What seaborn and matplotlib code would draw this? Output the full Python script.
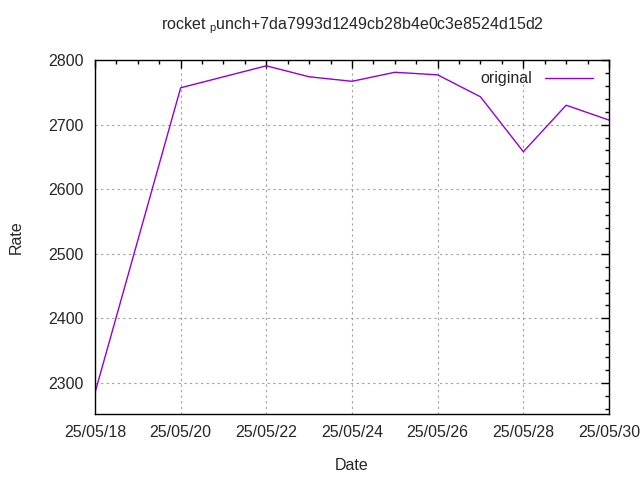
import pandas as pd
import matplotlib
matplotlib.use("Agg")
import matplotlib.pyplot as plt
import matplotlib.dates as mdates
from matplotlib.ticker import MultipleLocator
import seaborn as sns

# Datos
dates = ["2025-05-18", "2025-05-20", "2025-05-21", "2025-05-22", "2025-05-23",
         "2025-05-24", "2025-05-25", "2025-05-26", "2025-05-27", "2025-05-28",
         "2025-05-29", "2025-05-30"]
rates = [2285, 2757, 2774, 2791, 2774, 2767, 2781, 2777, 2743, 2658, 2730, 2707]
series_name = "original"
title = r"rocket $_\mathregular{p}$unch+7da7993d1249cb28b4e0c3e8524d15d2"

df = pd.DataFrame({"Date": pd.to_datetime(dates), "Rate": rates})

sns.set_style("white")
plt.rcParams["font.family"] = ["Liberation Sans", "DejaVu Sans"]
plt.rcParams["font.size"] = 11.5

fig = plt.figure(figsize=(6.4, 4.8), dpi=100)
ax = fig.add_axes([95 / 640, 1 - 414 / 480, 514 / 640, 354 / 480])

sns.lineplot(data=df, x="Date", y="Rate", ax=ax, color="#9400D3",
             linewidth=1, label=series_name)

ax.set_xlim(pd.Timestamp("2025-05-18"), pd.Timestamp("2025-05-30"))
ax.set_ylim(2252, 2800)
ax.xaxis.set_major_locator(mdates.DayLocator(interval=2))
ax.xaxis.set_minor_locator(mdates.HourLocator(byhour=[0, 12]))
ax.xaxis.set_major_formatter(mdates.DateFormatter("%y/%m/%d"))
ax.yaxis.set_major_locator(MultipleLocator(100))
ax.yaxis.set_minor_locator(MultipleLocator(20))

ax.tick_params(which="both", direction="in", top=True, right=True, color="black")
ax.tick_params(which="major", length=6, width=1, pad=8, labelsize=11.5)
ax.tick_params(which="minor", length=3, width=1)
ax.grid(True, which="major", color="#a0a0a0", linestyle=(0, (2, 3)), linewidth=0.8)
for s in ax.spines.values():
    s.set_color("black")
    s.set_linewidth(1)

ax.set_xlabel("Date", fontsize=11.5, labelpad=13)
ax.set_ylabel("Rate", fontsize=11.5, labelpad=18)
ax.set_title(title, fontsize=11.5, pad=22)

leg = ax.legend(loc="upper right", frameon=False, markerfirst=False,
                handlelength=3.0, fontsize=11.5, borderaxespad=0.3,
                bbox_to_anchor=(0.99, 1.0))

fig.savefig("out.png", dpi=100)
